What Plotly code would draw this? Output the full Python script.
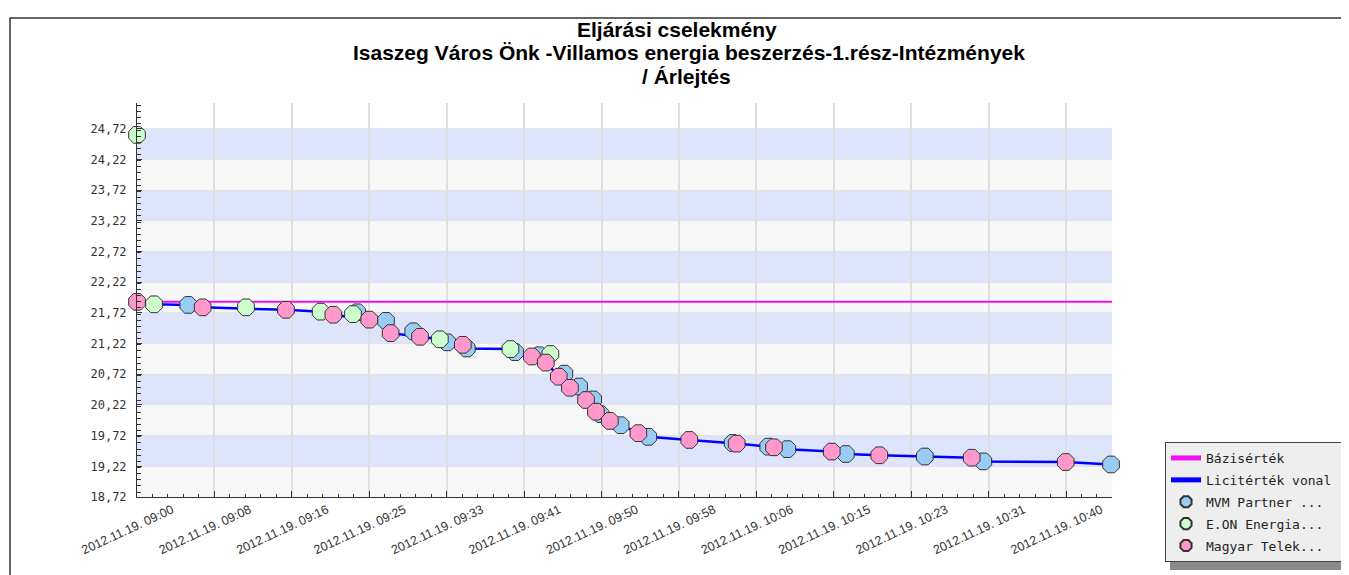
import plotly.graph_objects as go

DAY = "2012-11-19 "

# --- data ---
mvm_times = ["09:05:31", "09:23:42", "09:26:48", "09:29:44", "09:33:24", "09:35:30",
             "09:40:42", "09:43:18", "09:46:00", "09:47:36", "09:49:06", "09:49:54",
             "09:52:04", "09:55:02", "10:04:07", "10:07:57", "10:10:00", "10:16:18",
             "10:24:48", "10:31:06", "10:44:51"]
mvm_values = [21.85, 21.73, 21.59, 21.42, 21.24, 21.14, 21.08, 21.03, 20.73, 20.52,
              20.31, 20.07, 19.89, 19.70, 19.60, 19.54, 19.50, 19.42, 19.38, 19.30, 19.25]

eon_times = ["09:00:00", "09:01:50", "09:11:44", "09:19:46", "09:23:15", "09:32:36",
             "09:40:12", "09:44:30"]
eon_values = [24.62, 21.86, 21.81, 21.74, 21.70, 21.29, 21.13, 21.05]

mt_times = ["09:00:00", "09:07:04", "09:16:02", "09:21:08", "09:25:00", "09:27:18",
            "09:30:28", "09:35:04", "09:42:30", "09:44:00", "09:45:24", "09:46:36",
            "09:48:20", "09:49:24", "09:50:54", "09:53:58", "09:59:27", "10:04:33",
            "10:08:34", "10:14:47", "10:19:54", "10:29:51", "10:39:58"]
mt_values = [21.90, 21.81, 21.77, 21.69, 21.61, 21.39, 21.33, 21.20, 21.01, 20.91,
             20.68, 20.50, 20.30, 20.11, 19.96, 19.76, 19.65, 19.59, 19.53, 19.46,
             19.40, 19.36, 19.29]

base_value = 21.90

tick_times = ["09:00:00", "09:08:20", "09:16:40", "09:25:00", "09:33:20", "09:41:40",
              "09:50:00", "09:58:20", "10:06:40", "10:15:00", "10:23:20", "10:31:40",
              "10:40:00"]
tick_labels = ["2012.11.19. 09:00", "2012.11.19. 09:08", "2012.11.19. 09:16",
               "2012.11.19. 09:25", "2012.11.19. 09:33", "2012.11.19. 09:41",
               "2012.11.19. 09:50", "2012.11.19. 09:58", "2012.11.19. 10:06",
               "2012.11.19. 10:15", "2012.11.19. 10:23", "2012.11.19. 10:31",
               "2012.11.19. 10:40"]

title_lines = ["Eljárási cselekmény",
               "Isaszeg Város Önk -Villamos energia beszerzés-1.rész-Intézmények",
               "/ Árlejtés"]

x_start = "09:00:00"
x_end = "10:44:57"
y_min, y_max = 18.72, 25.14
y_step = 0.5
band_top = 24.72


def ts(t):
    return DAY + t


# running best bid (Licitérték vonal)
bids = {}
for tlist, vlist in ((mvm_times, mvm_values), (eon_times, eon_values), (mt_times, mt_values)):
    for t, v in zip(tlist, vlist):
        bids[t] = min(v, bids.get(t, 1e9))
line_x, line_y = [], []
best = None
for t in sorted(bids):
    v = bids[t]
    if best is None or v < best:
        best = v
        line_x.append(ts(t))
        line_y.append(v)
last_t = max(bids)
if line_x[-1] != ts(last_t):
    line_x.append(ts(last_t))
    line_y.append(best)

fig = go.Figure()

fig.add_trace(go.Scatter(x=[ts(x_start), ts(x_end)], y=[base_value, base_value],
                         mode="lines", name="Bázisérték",
                         line=dict(color="#ee11ee", width=2), legendgroup="a"))
fig.add_trace(go.Scatter(x=line_x, y=line_y, mode="lines", name="Licitérték vonal\u00a0",
                         line=dict(color="#0000ff", width=2.5), legendgroup="b"))

mk_line = dict(color="#333333", width=1)
fig.add_trace(go.Scatter(x=[ts(t) for t in mvm_times], y=mvm_values, mode="markers",
                         name="MVM Partner ...", cliponaxis=False, legendgroup="c",
                         marker=dict(symbol="octagon", size=18, color="#99ccf5", line=mk_line)))
fig.add_trace(go.Scatter(x=[ts(t) for t in eon_times], y=eon_values, mode="markers",
                         name="E.ON Energia...", cliponaxis=False, legendgroup="d",
                         marker=dict(symbol="octagon", size=18, color="#ccffcc", line=mk_line)))
fig.add_trace(go.Scatter(x=[ts(t) for t in mt_times], y=mt_values, mode="markers",
                         name="Magyar Telek...", cliponaxis=False, legendgroup="e",
                         marker=dict(symbol="octagon", size=18, color="#ff99cc", line=mk_line)))

# alternating background bands
shapes = []
k = 0
v = y_min
while v < band_top - 1e-9:
    shapes.append(dict(type="rect", xref="paper", yref="y", x0=0, x1=1, y0=v, y1=v + y_step,
                       fillcolor="#f7f7f7" if k % 2 == 0 else "#dde4fb",
                       line=dict(width=0), layer="below"))
    v += y_step
    k += 1

# page offset of the figure (browser body margin) and plot-area geometry
OFF = 8
FW, FH = 1349 - OFF, 575 - OFF
L, T, W, H = 137 - OFF, 103 - OFF, 975, 394


def px(xp):  # page x -> paper x
    return (xp - OFF - L) / W


def py(yp):  # page y -> paper y
    return (T + H - (yp - OFF)) / H


# outer chart border (top and left visible)
shapes.append(dict(type="rect", xref="paper", yref="paper", x0=px(10), x1=px(1420),
                   y0=py(660), y1=py(18), line=dict(color="#333333", width=1.5),
                   fillcolor="rgba(0,0,0,0)", layer="above"))
# legend shadow
shapes.append(dict(type="rect", xref="paper", yref="paper", x0=px(1170), x1=px(1345),
                   y0=py(570), y1=py(446), line=dict(width=0), fillcolor="#8a8a8a",
                   layer="above"))

annotations = []
for txt, yc, xc in zip(title_lines, [29, 53, 77], [677, 689, 686]):
    annotations.append(dict(text="<b>" + txt + "</b>", xref="paper", yref="paper",
                            x=px(xc), y=py(yc), xanchor="center", yanchor="middle",
                            showarrow=False,
                            font=dict(family="Liberation Sans, Arial", size=21,
                                      color="#000000")))

fig.update_layout(
    width=FW, height=FH,
    margin=dict(l=L, r=FW - L - W, t=T, b=FH - T - H, autoexpand=False),
    paper_bgcolor="white", plot_bgcolor="white",
    separators=", ",
    shapes=shapes,
    annotations=annotations,
    legend=dict(x=px(1165), y=py(442), xanchor="left", yanchor="top",
                bgcolor="#eeeeee", bordercolor="#444444", borderwidth=1,
                font=dict(family="DejaVu Sans Mono", size=13, color="#222222"),
                itemsizing="constant", tracegroupgap=2),
    xaxis=dict(type="date", range=[ts(x_start), ts(x_end)],
               tickvals=[ts(t) for t in tick_times], ticktext=tick_labels,
               tickangle=-25, ticks="inside", ticklen=6, tickcolor="#333333",
               ticklabelshift=35, ticklabelstandoff=0,
               tickfont=dict(family="Liberation Sans, Arial", size=12.5, color="#333333"),
               showline=True, linecolor="#333333", linewidth=1,
               showgrid=True, gridcolor="#dedede", gridwidth=2, zeroline=False,
               minor=dict(dtick=100000, ticks="inside", ticklen=3, tickcolor="#333333",
                          showgrid=False)),
    yaxis=dict(range=[y_min, y_max], tick0=y_min, dtick=y_step, tickformat=".2f",
               ticks="inside", ticklen=5, tickcolor="#333333", ticklabelstandoff=7,
               tickfont=dict(family="DejaVu Sans Mono", size=12, color="#333333"),
               showline=True, linecolor="#333333", linewidth=1,
               showgrid=True, gridcolor="#e2e2e2", gridwidth=1, zeroline=False,
               minor=dict(dtick=0.1, ticks="inside", ticklen=4, tickcolor="#333333",
                          showgrid=False)),
)

fig.write_html("out.html", config={"displayModeBar": False})
